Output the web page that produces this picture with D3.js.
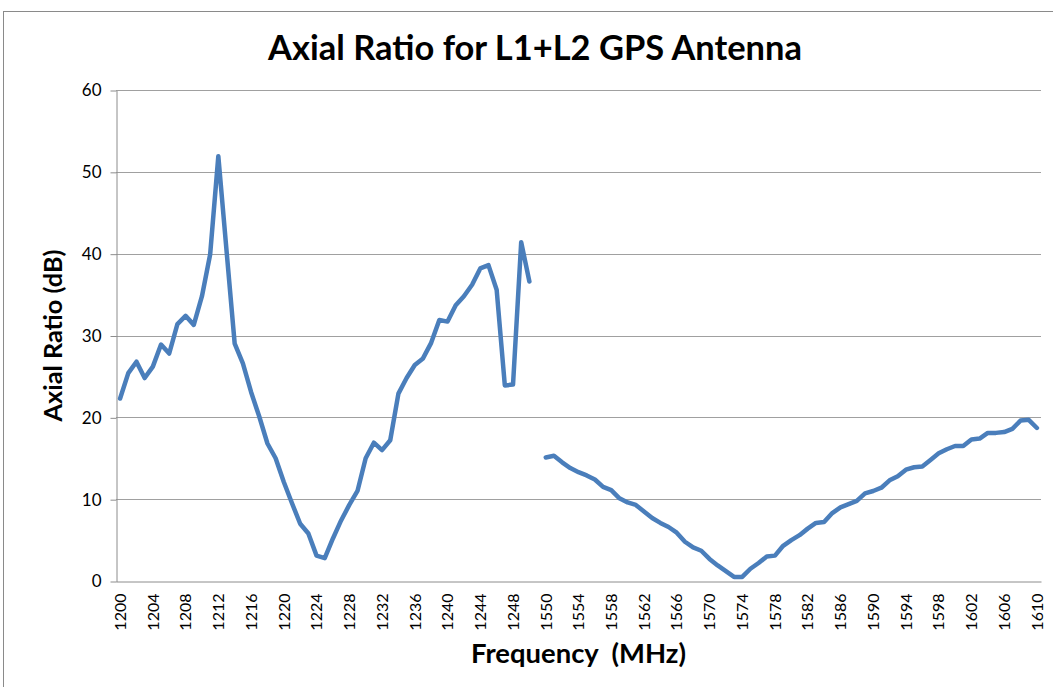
<!DOCTYPE html>
<html>
<head>
<meta charset="utf-8">
<script src="https://cdn.jsdelivr.net/npm/d3@7"></script>
<style>
  html, body { margin: 0; padding: 0; background: #fff; }
  svg { display: block; }
</style>
</head>
<body>
<svg id="chart" width="1053" height="687"></svg>
<script>
(function() {
  var W = 1053, H = 687;

  // categories: the L2 band sweep, then the L1 band sweep (blank cell between)
  var freqL2 = [1200, 1201, 1202, 1203, 1204, 1205, 1206, 1207, 1208, 1209,
    1210, 1211, 1212, 1213, 1214, 1215, 1216, 1217, 1218, 1219,
    1220, 1221, 1222, 1223, 1224, 1225, 1226, 1227, 1228, 1229,
    1230, 1231, 1232, 1233, 1234, 1235, 1236, 1237, 1238, 1239,
    1240, 1241, 1242, 1243, 1244, 1245, 1246, 1247, 1248, 1249, 1250];
  var freqL1 = [1550, 1551, 1552, 1553, 1554, 1555, 1556, 1557, 1558, 1559,
    1560, 1561, 1562, 1563, 1564, 1565, 1566, 1567, 1568, 1569,
    1570, 1571, 1572, 1573, 1574, 1575, 1576, 1577, 1578, 1579,
    1580, 1581, 1582, 1583, 1584, 1585, 1586, 1587, 1588, 1589,
    1590, 1591, 1592, 1593, 1594, 1595, 1596, 1597, 1598, 1599,
    1600, 1601, 1602, 1603, 1604, 1605, 1606, 1607, 1608, 1609, 1610];

  // axial ratio, dB
  var arL2 = [22.3, 25.4, 26.8, 24.8, 26.2, 28.9, 27.8, 31.4, 32.4, 31.3,
    34.8, 39.9, 51.9, 40.4, 29.0, 26.6, 23.1, 20.1, 16.8, 15.0,
    12.1, 9.5, 7.0, 5.8, 3.1, 2.8, 5.2, 7.4, 9.3, 11.0,
    15.0, 16.9, 16.0, 17.2, 22.9, 24.8, 26.4, 27.2, 29.1, 31.9,
    31.7, 33.7, 34.8, 36.2, 38.2, 38.6, 35.6, 23.9, 24.0, 41.4, 36.6];
  var arL1 = [15.1, 15.3, 14.5, 13.8, 13.3, 12.9, 12.4, 11.5, 11.1, 10.1,
    9.6, 9.3, 8.5, 7.7, 7.1, 6.6, 5.9, 4.8, 4.1, 3.7,
    2.7, 1.9, 1.2, 0.5, 0.5, 1.5, 2.2, 3.0, 3.1, 4.3,
    5.0, 5.6, 6.4, 7.1, 7.2, 8.3, 9.0, 9.4, 9.8, 10.7,
    11.0, 11.4, 12.3, 12.8, 13.6, 13.9, 14.0, 14.8, 15.6, 16.1,
    16.5, 16.5, 17.3, 17.4, 18.1, 18.1, 18.2, 18.6, 19.6, 19.7, 18.7];

  var xTickLabels = ['1200', '1204', '1208', '1212', '1216', '1220', '1224',
    '1228', '1232', '1236', '1240', '1244', '1248',
    '1550', '1554', '1558', '1562', '1566', '1570', '1574', '1578', '1582',
    '1586', '1590', '1594', '1598', '1602', '1606', '1610'];
  var yTicks = [0, 10, 20, 30, 40, 50, 60];

  var margin = { left: 116, right: 1041, top: 90, bottom: 581 };
  var font = 'Lato, "Open Sans", sans-serif';
  var axisGrey = '#8c8c8c';
  var gridGrey = '#a0a0a0';

  var points = [];
  freqL2.forEach(function(f, i) { points.push({ key: String(f), v: arL2[i] }); });
  points.push({ key: 'gap', v: null });
  freqL1.forEach(function(f, i) { points.push({ key: String(f), v: arL1[i] }); });

  var x = d3.scaleBand()
    .domain(points.map(function(d) { return d.key; }))
    .range([margin.left, margin.right])
    .padding(0);
  var y = d3.scaleLinear().domain([0, 60]).range([margin.bottom, margin.top]);
  var cx = function(k) { return x(k) + x.bandwidth() / 2; };

  var svg = d3.select('#chart');

  svg.append('rect')
    .attr('x', 3.5).attr('y', 11.5)
    .attr('width', 1100).attr('height', 720)
    .attr('fill', '#fff')
    .attr('stroke', '#8a8a8a')
    .attr('stroke-width', 1);

  // gridlines
  svg.append('g')
    .selectAll('line')
    .data(yTicks.filter(function(t) { return t > 0; }))
    .enter().append('line')
    .attr('x1', margin.left).attr('x2', margin.right)
    .attr('y1', function(d) { return Math.round(y(d)) + 0.5; })
    .attr('y2', function(d) { return Math.round(y(d)) + 0.5; })
    .attr('stroke', gridGrey)
    .attr('stroke-width', 1);

  // y axis
  var yAxis = svg.append('g')
    .attr('transform', 'translate(' + (margin.left + 0.5) + ',0.5)')
    .call(d3.axisLeft(y).tickValues(yTicks).tickSize(6).tickSizeOuter(0).tickPadding(9));
  yAxis.selectAll('path, line').attr('stroke', axisGrey);
  yAxis.selectAll('text')
    .attr('fill', '#000')
    .style('font-family', font)
    .style('font-size', '17px');

  // x axis
  var xAxis = svg.append('g')
    .attr('transform', 'translate(0,' + (margin.bottom + 0.5) + ')')
    .call(d3.axisBottom(x).tickValues(xTickLabels).tickSize(0).tickSizeOuter(0));
  xAxis.select('.domain').attr('stroke', axisGrey);
  xAxis.selectAll('.tick text')
    .attr('fill', '#000')
    .attr('y', 0)
    .attr('x', -12)
    .attr('dy', '0.36em')
    .attr('transform', 'rotate(-90)')
    .style('text-anchor', 'end')
    .style('font-family', font)
    .style('font-size', '16px');

  // the curve
  var line = d3.line()
    .defined(function(d) { return d.v != null; })
    .x(function(d) { return cx(d.key); })
    .y(function(d) { return y(d.v); });

  svg.append('path')
    .datum(points)
    .attr('d', line)
    .attr('fill', 'none')
    .attr('stroke', '#4a7ebb')
    .attr('stroke-width', 4.5)
    .attr('stroke-linejoin', 'round')
    .attr('stroke-linecap', 'round');

  function fitWidth(sel, target) {
    var w = sel.node().getComputedTextLength();
    var fs = parseFloat(sel.style('font-size'));
    sel.style('font-size', (fs * target / w) + 'px');
    return sel;
  }

  var title = svg.append('text')
    .attr('x', 535).attr('y', 60)
    .attr('text-anchor', 'middle')
    .style('font-family', font)
    .style('font-weight', 'bold')
    .style('font-size', '28px')
    .text('Axial Ratio for L1+L2 GPS Antenna');
  fitWidth(title, 534);

  var xTitle = svg.append('text')
    .attr('x', (margin.left + margin.right) / 2).attr('y', 663)
    .attr('text-anchor', 'middle')
    .attr('xml:space', 'preserve')
    .style('font-family', font)
    .style('font-weight', 'bold')
    .style('font-size', '22px')
    .style('white-space', 'pre')
    .text('Frequency  (MHz)');
  fitWidth(xTitle, 215);

  var yTitle = svg.append('text')
    .attr('transform', 'translate(62,' + ((margin.top + margin.bottom) / 2) + ') rotate(-90)')
    .attr('text-anchor', 'middle')
    .style('font-family', font)
    .style('font-weight', 'bold')
    .style('font-size', '20px')
    .text('Axial Ratio (dB)');
  fitWidth(yTitle, 172);
})();
</script>
</body>
</html>
